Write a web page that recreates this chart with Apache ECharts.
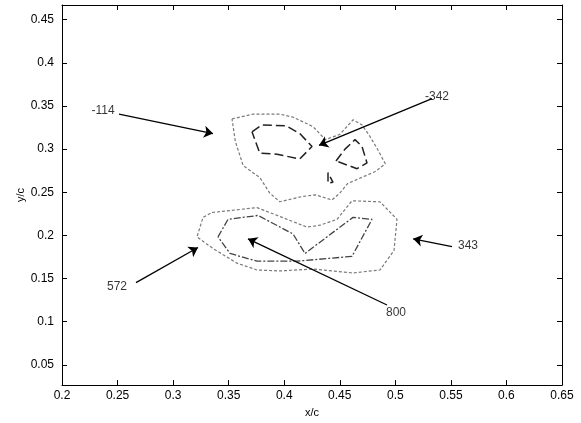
<!DOCTYPE html>
<html>
<head>
<meta charset="utf-8">
<script src="https://cdn.jsdelivr.net/npm/echarts@6/dist/echarts.min.js"></script>
<style>html,body{margin:0;padding:0;background:#fff}#c{width:581px;height:423px}</style>
</head>
<body>
<div id="c"></div>
<script>
// ---- data (x/c, y/c) ----
const xTicks = [0.2,0.25,0.3,0.35,0.4,0.45,0.5,0.55,0.6,0.65];
const yTicks = [0.05,0.1,0.15,0.2,0.25,0.3,0.35,0.4,0.45];

// contour -114 (outer ring, upper group)
const cNeg114 = [[0.353,0.335],[0.372,0.3405],[0.396,0.3405],[0.408,0.337],[0.426,0.326],[0.437,0.311],[0.450,0.317],[0.462,0.334],[0.470,0.328],[0.477,0.315],[0.4835,0.301],[0.491,0.283],[0.482,0.274],[0.473,0.269],[0.457,0.260],[0.450,0.249],[0.443,0.241],[0.428,0.247],[0.416,0.245],[0.396,0.239],[0.387,0.249],[0.378,0.267],[0.363,0.281],[0.356,0.309],[0.353,0.335]];
// contour -342 (inner pieces, upper group)
const cNeg342a = [[0.371,0.320],[0.380,0.328],[0.4016,0.327],[0.414,0.318],[0.425,0.303],[0.414,0.2886],[0.3935,0.294],[0.378,0.2954],[0.371,0.320]];
const cNeg342b = [[0.4466,0.2863],[0.4547,0.300],[0.4637,0.311],[0.470,0.303],[0.4745,0.284],[0.4655,0.2773],[0.4466,0.2863]];
const cNeg342c = [[0.4394,0.2728],[0.4394,0.2604],[0.4439,0.2615],[0.4394,0.2728]];
// contour 343 (outer ring, lower group)
const c343 = [[0.335,0.2265],[0.3755,0.2322],[0.4205,0.2096],[0.4322,0.2118],[0.4475,0.2186],[0.461,0.2401],[0.4862,0.2389],[0.5015,0.2186],[0.4988,0.1825],[0.4862,0.1599],[0.4619,0.1565],[0.4259,0.161],[0.3962,0.1588],[0.3755,0.1599],[0.3575,0.1678],[0.3359,0.1848],[0.3215,0.1983],[0.3269,0.2209],[0.335,0.2265]];
// contour 572 (inner ring, lower group)
const c572 = [[0.3404,0.1983],[0.3494,0.2186],[0.3764,0.2231],[0.4079,0.2017],[0.4187,0.1791],[0.4619,0.2209],[0.479,0.2186],[0.461,0.1757],[0.4115,0.1701],[0.3755,0.1701],[0.3512,0.1791],[0.3404,0.1983]];

// labels and arrows
const labelText = ['-114','-342','343','572','800'];
const labelPos = [[0.237,0.345],[0.5375,0.361],[0.5654,0.188],[0.2495,0.1407],[0.5006,0.1103]];
const arrowFrom = [[0.2513,0.3405],[0.533,0.3586],[0.551,0.187],[0.2666,0.1453],[0.4925,0.1193]];
const arrowTo = [[0.3359,0.318],[0.4313,0.3044],[0.516,0.196],[0.3224,0.1859],[0.3674,0.196]];

const FONT = 'Liberation Sans';
function contour(data, color, type, width) {
  return {type:'line', data:data, showSymbol:false, symbol:'none', smooth:false, silent:true,
    lineStyle:{color:color, width:width, type:type}, z:3};
}
const axisCommon = {
  axisLine:{show:true, onZero:false, lineStyle:{color:'#000', width:1}},
  splitLine:{show:false}
};
const option = {
  backgroundColor:'#fff',
  animation:false,
  grid:{left:62, right:19, top:5, bottom:28, containLabel:false},
  xAxis:[
    Object.assign({type:'value', min:0.2, max:0.65, position:'bottom',
      name:'x/c', nameLocation:'middle', nameGap:13,
      nameTextStyle:{fontFamily:FONT, fontSize:11, color:'#000'},
      axisTick:{show:true, inside:true, length:5, customValues:xTicks, lineStyle:{color:'#000'}},
      axisLabel:{show:true, customValues:xTicks, margin:5, fontFamily:FONT, fontSize:12, color:'#000',
        formatter:v=>String(+v.toFixed(2))}}, axisCommon),
    Object.assign({type:'value', min:0.2, max:0.65, position:'top',
      axisTick:{show:true, inside:true, length:5, customValues:xTicks, lineStyle:{color:'#000'}},
      axisLabel:{show:false}}, axisCommon)
  ],
  yAxis:[
    Object.assign({type:'value', min:0.0265, max:0.467, position:'left',
      name:'y/c', nameLocation:'middle', nameGap:36, nameRotate:90, nameMoveOverlap:false,
      nameTextStyle:{fontFamily:FONT, fontSize:11, color:'#000'},
      axisTick:{show:true, inside:true, length:5, customValues:yTicks, lineStyle:{color:'#000'}},
      axisLabel:{show:true, customValues:yTicks, margin:8, fontFamily:FONT, fontSize:12, color:'#000',
        formatter:v=>String(+v.toFixed(2))}}, axisCommon),
    Object.assign({type:'value', min:0.0265, max:0.467, position:'right',
      axisTick:{show:true, inside:true, length:5, customValues:yTicks, lineStyle:{color:'#000'}},
      axisLabel:{show:false}}, axisCommon)
  ],
  series:[
    contour(cNeg114, '#7a7a7a', [3,2], 1.2),
    contour(cNeg342a, '#222', [9,4], 1.5),
    contour(cNeg342b, '#222', [9,4], 1.5),
    contour(cNeg342c, '#222', [9,4], 1.5),
    contour(c343, '#7a7a7a', [3,2], 1.2),
    contour(c572, '#444', [7,2,2,2], 1.3),
    {type:'lines', coordinateSystem:'cartesian2d', silent:true, z:5,
      symbol:['none','arrow'], symbolSize:[0,9],
      lineStyle:{color:'#000', width:1.3, opacity:1, curveness:0},
      data: arrowFrom.map((p,i)=>({coords:[p, arrowTo[i]]}))},
    {type:'scatter', symbolSize:0, silent:true, z:6,
      data: labelPos.map((p,i)=>({value:p, name:labelText[i]})),
      label:{show:true, position:'inside', formatter:p=>p.name,
        fontFamily:FONT, fontSize:12, color:'#000'}}
  ]
};
const chart = echarts.init(document.getElementById('c'), null, {renderer:'canvas'});
chart.setOption(option);
</script>
</body>
</html>
